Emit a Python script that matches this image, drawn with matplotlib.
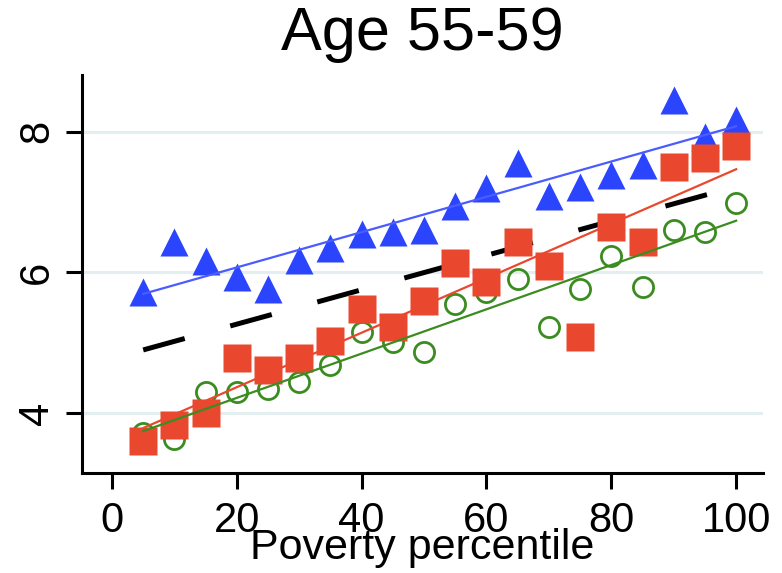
import numpy as np
import matplotlib
matplotlib.use("Agg")
import matplotlib.pyplot as plt

plt.rcParams['font.family'] = ['Liberation Sans', 'DejaVu Sans']
plt.rcParams['lines.scale_dashes'] = False

# Poverty percentile bins
pct = [5, 10, 15, 20, 25, 30, 35, 40, 45, 50, 55, 60, 65, 70, 75, 80, 85, 90, 95, 100]

# Group means per percentile bin
tri_vals = [5.72, 6.43, 6.16, 5.94, 5.76, 6.18, 6.35, 6.54, 6.58, 6.61,
            6.94, 7.20, 7.56, 7.08, 7.22, 7.39, 7.53, 8.45, 7.93, 8.17]
sq_vals = [3.60, 3.84, 4.01, 4.79, 4.62, 4.79, 5.02, 5.48, 5.23, 5.59,
           6.14, 5.86, 6.43, 6.09, 5.08, 6.65, 6.43, 7.50, 7.63, 7.79]
circ_vals = [3.72, 3.63, 4.30, 4.30, 4.34, 4.45, 4.69, 5.15, 5.01, 4.87,
             5.55, 5.72, 5.91, 5.22, 5.77, 6.24, 5.80, 6.61, 6.57, 6.98]

# Dashed reference line (end points)
ref_x = [5, 100]
ref_y = [4.90, 7.22]

xticks = [0, 20, 40, 60, 80, 100]
yticks = [4, 6, 8]

blue = '#2b45ff'
red = '#ea482e'
green = '#3b8c20'

fig = plt.figure(figsize=(7.82, 5.73), dpi=100)
ax = fig.add_axes([0.1049, 0.1745, 0.8708, 0.6946])

ax.plot(ref_x, ref_y, color='black', lw=3.6, dashes=(31, 34), zorder=2,
        solid_capstyle='butt', dash_capstyle='butt')

ax.plot(pct, circ_vals, ls='none', marker='o', ms=14.5, mfc='none',
        mec=green, mew=2.0, zorder=3)
ax.plot(pct, tri_vals, ls='none', marker='^', ms=20, color=blue, mec='none', zorder=3)
ax.plot(pct, sq_vals, ls='none', marker='s', ms=19.5, color=red, mec='none', zorder=3.5)

# linear fits
xs = np.array(pct, dtype=float)
for vals, c in [(tri_vals, '#4a5cff'), (sq_vals, red), (circ_vals, green)]:
    b, a = np.polyfit(xs, vals, 1)
    ax.plot([xs[0], xs[-1]], [a + b * xs[0], a + b * xs[-1]], color=c, lw=1.6, zorder=4)

ax.set_xlim(-4.8, 104.3)
ax.set_ylim(3.152, 8.805)
ax.set_xticks(xticks)
ax.set_yticks(yticks)

ax.yaxis.grid(True, color='#e3eef0', lw=2.2, zorder=0)
ax.set_axisbelow(True)

for s in ['top', 'right']:
    ax.spines[s].set_visible(False)
for s in ['left', 'bottom']:
    ax.spines[s].set_linewidth(2.2)

ax.tick_params(axis='both', length=11.5, width=2.2, labelsize=30)
ax.tick_params(axis='x', pad=8.5)
ax.tick_params(axis='y', pad=6.5, labelrotation=90)
for lbl in ax.get_yticklabels():
    lbl.set_va('center')

ax.set_title('Age 55-59', fontsize=44, pad=18)
ax.set_xlabel('Poverty percentile', fontsize=31, labelpad=-9.5)

fig.savefig('out.png', dpi=100)
